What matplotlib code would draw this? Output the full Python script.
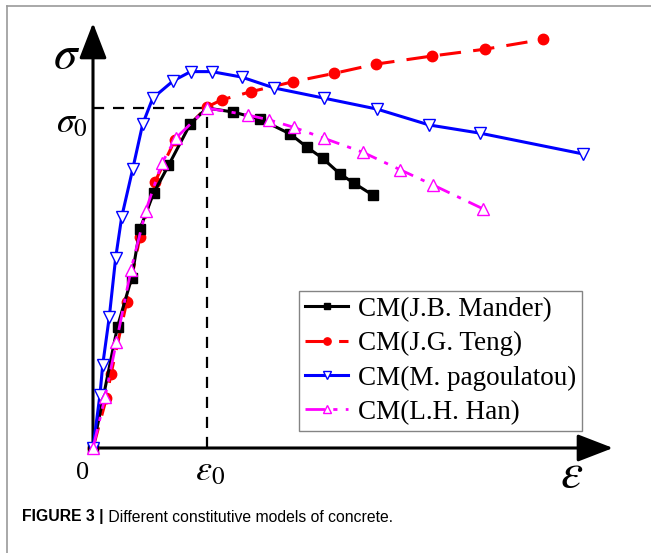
import matplotlib
matplotlib.use("Agg")
import matplotlib.pyplot as plt
from matplotlib.lines import Line2D

plt.rcParams['mathtext.fontset'] = 'stix'
plt.rcParams['font.family'] = ['Liberation Serif', 'DejaVu Serif']

# ---- data (normalized: strain / eps0, stress / sigma0) ----
mander_eps = [0, 0.215, 0.339, 0.412, 0.531, 0.662, 0.855, 1.0, 1.232, 1.465, 1.728, 1.880, 2.015, 2.167, 2.289, 2.454]
mander_sig = [0, 0.357, 0.500, 0.644, 0.749, 0.831, 0.954, 1.0, 0.988, 0.967, 0.924, 0.884, 0.852, 0.806, 0.779, 0.744]

teng_eps = [0, 0.118, 0.158, 0.296, 0.412, 0.544, 0.719, 1.0, 1.129, 1.386, 1.752, 2.117, 2.480, 2.976, 3.439, 3.950]
teng_sig = [0, 0.147, 0.218, 0.430, 0.621, 0.783, 0.906, 1.003, 1.024, 1.048, 1.077, 1.102, 1.129, 1.153, 1.173, 1.202]

pag_eps = [0, 0.061, 0.085, 0.143, 0.199, 0.252, 0.348, 0.436, 0.524, 0.704, 0.857, 1.041, 1.304, 1.588, 2.026, 2.489, 2.950, 3.395, 4.296]
pag_sig = [0, 0.156, 0.244, 0.386, 0.560, 0.680, 0.820, 0.953, 1.029, 1.080, 1.107, 1.107, 1.091, 1.059, 1.029, 0.997, 0.950, 0.926, 0.865]

han_eps = [0, 0.105, 0.206, 0.333, 0.462, 0.603, 0.725, 1.0, 1.362, 1.546, 1.763, 2.026, 2.366, 2.697, 2.980, 3.424]
han_sig = [0, 0.149, 0.313, 0.524, 0.697, 0.837, 0.911, 1.0, 0.979, 0.965, 0.943, 0.911, 0.870, 0.818, 0.774, 0.703]

labels = ['CM(J.B. Mander)', 'CM(J.G. Teng)', 'CM(M. pagoulatou)', 'CM(L.H. Han)']
caption_bold = 'FIGURE 3 |'
caption_text = ' Different constitutive models of concrete.'

W, H = 651, 553
fig = plt.figure(figsize=(W / 100, H / 100), dpi=100)
ax = fig.add_axes([0, 0, 1, 1])
ax.axis('off')
x0px, y0px, xs, ys = 93, 448, 114, 340
ax.set_xlim(-x0px / xs, (W - x0px) / xs)
ax.set_ylim((y0px - H) / ys, y0px / ys)

# frame border of the figure panel
fig.add_artist(Line2D([7 / W, 7 / W], [0, 1 - 6 / H], color='#9a9a9a', lw=1.2))
fig.add_artist(Line2D([7 / W, 1], [1 - 6 / H, 1 - 6 / H], color='#9a9a9a', lw=1.2))

# axes with arrows
ytip = (y0px - 23) / ys
xtip = (613 - x0px) / xs
arrow_kw = dict(arrowstyle='-|>,head_length=22,head_width=8.5', color='black', lw=2.2,
                shrinkA=0, shrinkB=0, mutation_scale=1)
ax.annotate('', xy=(0, ytip), xytext=(0, 0), arrowprops=arrow_kw, zorder=2)
ax.annotate('', xy=(xtip, 0), xytext=(0, 0), arrowprops=arrow_kw, zorder=2)

# guide lines
ax.plot([0, 1], [1, 1], color='black', lw=1.6, ls=(0, (5, 4)), zorder=1)
ax.plot([1, 1], [0, 1], color='black', lw=1.6, ls=(0, (5, 4)), zorder=1)

# curves
ax.plot(mander_eps, mander_sig, color='black', lw=2.2, marker='s', ms=6.5,
        markevery=[i for i in range(len(mander_eps)) if i != 7], label=labels[0], zorder=4)
ax.plot(teng_eps, teng_sig, color='red', lw=2.2, ls=(0, (7, 4)), marker='o', ms=7.5,
        label=labels[1], zorder=3)
ax.plot(pag_eps, pag_sig, color='blue', lw=2.2, marker='v', ms=9, mfc='white', mec='blue',
        mew=1.0, label=labels[2], zorder=5)
ax.plot(han_eps, han_sig, color='magenta', lw=2.0, ls=(0, (7, 3, 1.5, 3)), marker='^', ms=9,
        mfc='white', mec='magenta', mew=1.0, label=labels[3], zorder=6)

# axis labels
ax.text(-0.228, 1.15, r'$\sigma$', fontsize=34, ha='center', va='center')
ax.text(-0.184, 0.953, r'$\sigma_0$', fontsize=26, ha='center', va='center')
ax.text(-0.088, -0.0735, '0', fontsize=19, ha='center', va='center')
ax.text(1.026, -0.07, r'$\varepsilon_0$', fontsize=26, ha='center', va='center')
ax.text(4.20, -0.079, r'$\varepsilon$', fontsize=36, ha='center', va='center')

leg = ax.legend(loc='upper left', bbox_to_anchor=(299 / W, 1 - 291 / H), bbox_transform=fig.transFigure,
                fontsize=19.5, frameon=True, fancybox=False, borderaxespad=0, borderpad=0.22,
                handlelength=1.6, handletextpad=0.36, labelspacing=0.34, markerscale=0.7)
leg.get_frame().set_edgecolor('#666666')
leg.get_frame().set_linewidth(1.0)

# caption
t1 = fig.text(22 / W, 1 - 517 / H, caption_bold, fontsize=11.3, fontweight='bold',
              family=['Liberation Sans Narrow', 'Liberation Sans'], va='center', ha='left')
fig.canvas.draw()
bb = t1.get_window_extent()
fig.text(bb.x1 / W, 1 - 517 / H, caption_text, fontsize=11.3,
         family=['Liberation Sans Narrow', 'Liberation Sans'], va='center', ha='left')

fig.savefig('out.png', dpi=100)
